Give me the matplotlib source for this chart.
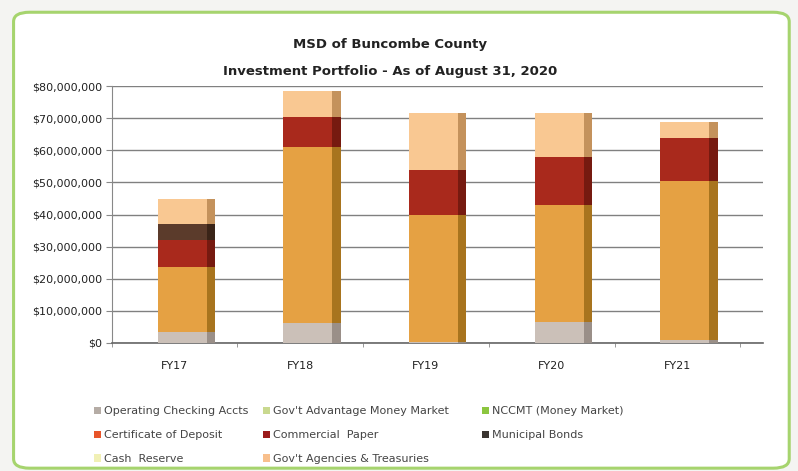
import matplotlib.pyplot as plt
import matplotlib.ticker as ticker
from matplotlib.patches import FancyBboxPatch, Patch
import numpy as np

plt.rcParams['font.family'] = ['Liberation Sans Narrow', 'DejaVu Sans']

years = ["FY17", "FY18", "FY19", "FY20", "FY21"]

# values in millions of dollars
operating_checking = [3.3, 6.2, 0.4, 6.5, 1.0]
money_market = [20.4, 54.9, 39.6, 36.5, 49.4]
commercial_paper = [8.3, 9.3, 13.8, 14.8, 13.5]
municipal_bonds = [5.2, 0.0, 0.0, 0.0, 0.0]
agencies_treasuries = [7.7, 8.0, 17.9, 13.9, 4.9]

legend_labels = ["Operating Checking Accts", "Gov't Advantage Money Market", "NCCMT (Money Market)",
                 "Certificate of Deposit", "Commercial  Paper", "Municipal Bonds",
                 "Cash  Reserve", "Gov't Agencies & Treasuries"]
legend_colors = ["#b5aca5", "#c9d98f", "#8cc63f", "#e8552a", "#9b1b1b", "#3a3530", "#f1f0b5", "#f8bf8c"]

segments = [operating_checking, money_market, commercial_paper, municipal_bonds, agencies_treasuries]
face_colors = ["#cbc0b8", "#e5a143", "#a9291c", "#5b3b2b", "#f9c892"]
side_colors = ["#9a8f88", "#a8741e", "#761a10", "#3a2418", "#c4925c"]

fig = plt.figure(figsize=(7.98, 4.71), dpi=100)
fig.patch.set_facecolor("#f4f4f2")
frame = FancyBboxPatch((0.017, 0.006), 0.972, 0.968, boxstyle="round,pad=0,rounding_size=0.02",
                       transform=fig.transFigure, facecolor="white", edgecolor="#a6d46e",
                       linewidth=2.2, zorder=-10)
fig.patches.append(frame)

ax = fig.add_axes([0.14, 0.272, 0.816, 0.545])
ax.set_zorder(2)
ax.set_facecolor("none")
x = np.arange(len(years))
bottom = np.zeros(len(years))
for vals, fc, sc in zip(segments, face_colors, side_colors):
    v = np.array(vals) * 1e6
    ax.bar(x - 0.135, v, width=0.39, bottom=bottom, align="edge", color=fc, zorder=3)
    ax.bar(x + 0.255, v, width=0.065, bottom=bottom, align="edge", color=sc, zorder=3)
    bottom += v

ax.set_xlim(-0.5, 4.68)
ax.set_ylim(0, 80e6)
ax.yaxis.set_major_locator(ticker.MultipleLocator(10e6))
ax.yaxis.set_major_formatter(ticker.FuncFormatter(lambda v, p: "${:,.0f}".format(v)))
ax.grid(axis="y", color="#808080", linewidth=1.0, zorder=0)
ax.set_axisbelow(True)
ax.set_xticks(x)
ax.set_xticklabels(years, fontsize=8, color="#222222")
ax.set_xticks(np.arange(-0.5, 5, 1), minor=True)
ax.tick_params(axis="x", which="major", length=0, pad=13)
ax.tick_params(axis="x", which="minor", length=3, color="#888888")
ax.tick_params(axis="y", length=4, color="#888888", labelsize=8, labelcolor="#222222", pad=3)
for s in ["top", "right"]:
    ax.spines[s].set_visible(False)
ax.spines["left"].set_color("#888888")
ax.spines["bottom"].set_color("#666666")
ax.spines["bottom"].set_linewidth(1.2)

fig.text(0.489, 0.905, "MSD of Buncombe County", ha="center", va="center", fontsize=9.5,
         fontweight="bold", color="#222222")
fig.text(0.489, 0.848, "Investment Portfolio - As of August 31, 2020", ha="center", va="center",
         fontsize=9.5, fontweight="bold", color="#222222")

# one legend per column, rows filled left to right as in the original
col_x = [0.118, 0.330, 0.604]
for c in range(3):
    idx = list(range(c, len(legend_labels), 3))
    handles = [Patch(facecolor=legend_colors[i], edgecolor="none") for i in idx]
    leg = fig.legend(handles, [legend_labels[i] for i in idx], loc="upper left",
                     bbox_to_anchor=(col_x[c], 0.137), frameon=False, fontsize=8,
                     handlelength=0.6, handleheight=0.7, handletextpad=0.3,
                     labelspacing=1.25, labelcolor="#444444", borderpad=0, borderaxespad=0)

fig.savefig("out.png", dpi=100, facecolor=fig.get_facecolor())
